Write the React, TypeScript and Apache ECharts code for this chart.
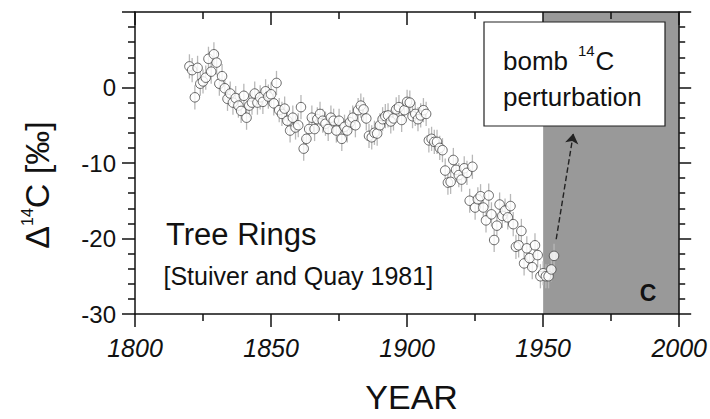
import React, { useEffect, useRef } from 'react';
import * as echarts from 'echarts';

const YEARS = [
  1820, 1821, 1822, 1823, 1824, 1825, 1826, 1827, 1828, 1829,
  1830, 1831, 1832, 1833, 1834, 1835, 1836, 1837, 1838, 1839,
  1840, 1841, 1842, 1843, 1844, 1845, 1846, 1847, 1848, 1849,
  1850, 1851, 1852, 1853, 1854, 1855, 1856, 1857, 1858, 1859,
  1860, 1861, 1862, 1863, 1864, 1865, 1866, 1867, 1868, 1869,
  1870, 1871, 1872, 1873, 1874, 1875, 1876, 1877, 1878, 1879,
  1880, 1881, 1882, 1883, 1884, 1885, 1886, 1887, 1888, 1889,
  1890, 1891, 1892, 1893, 1894, 1895, 1896, 1897, 1898, 1899,
  1900, 1901, 1902, 1903, 1904, 1905, 1906, 1907, 1908, 1909,
  1910, 1911, 1912, 1913, 1914, 1915, 1916, 1917, 1918, 1919,
  1920, 1921, 1922, 1923, 1924, 1925, 1926, 1927, 1928, 1929,
  1930, 1931, 1932, 1933, 1934, 1935, 1936, 1937, 1938, 1939,
  1940, 1941, 1942, 1943, 1944, 1945, 1946, 1947, 1948, 1949,
  1950, 1951, 1952, 1953, 1954,
];

const D14C = [
  2.8, 2.3, -1.3, 2.6, 0.5, 0.8, 1.3, 3.8, 2.1, 4.4,
  3.3, 0.5, 1.5, -0.1, -1.5, -0.8, -2.0, -1.4, -2.4, -3.1,
  -1.1, -4.0, -2.4, -2.0, -0.8, -2.0, -1.3, -1.9, -0.5, -1.2,
  -0.9, -2.1, 0.6, -3.0, -3.5, -2.8, -4.4, -5.7, -4.0, -5.3,
  -5.0, -2.6, -8.1, -6.8, -5.5, -4.0, -5.5, -4.2, -3.5, -4.4,
  -4.8, -5.5, -4.0, -4.4, -5.7, -4.4, -6.8, -5.2, -5.7, -4.6,
  -4.0, -5.0, -3.0, -2.4, -2.9, -4.1, -6.4, -6.6, -6.0, -6.1,
  -5.0, -4.2, -3.8, -3.7, -4.5, -4.1, -2.9, -2.6, -4.3, -3.0,
  -1.9, -2.0, -3.8, -3.5, -4.2, -3.7, -3.0, -3.5, -7.0, -6.8,
  -7.2, -7.2, -8.0, -8.3, -11.0, -12.6, -12.5, -9.6, -10.9, -11.6,
  -12.2, -10.7, -11.3, -15.0, -10.5, -15.9, -14.8, -14.4, -15.9, -17.6,
  -14.3, -16.8, -20.2, -18.3, -15.5, -17.0, -16.3, -17.2, -15.7, -18.1,
  -21.1, -20.9, -19.0, -23.3, -21.3, -22.6, -23.8, -20.9, -22.2, -25.0,
  -24.6, -25.0, -25.0, -24.1, -22.3,
];

const ERR = 1.6;
const BOMB_RANGE = [1950, 2000];
const ARROW_FROM = [1954.8, -20.1];
const ARROW_TO = [1961.1, -6.1];

const FONT = '"Liberation Sans", Arial, Helvetica, sans-serif';
const INK = '#111';

export default function App() {
  const ref = useRef<HTMLDivElement>(null);

  useEffect(() => {
    const chart = echarts.init(ref.current as HTMLDivElement, null, { renderer: 'svg' });
    const pts = YEARS.map((y, i) => [y, D14C[i]]);
    const axisLine = { show: true, onZero: false, lineStyle: { color: INK, width: 1.5 } };
    const tickStyle = { color: INK, width: 1.5 };

    chart.setOption({
      animation: false,
      grid: { left: 135, right: 30, top: 12, bottom: 101, containLabel: false },
      xAxis: [
        {
          type: 'value', min: 1800, max: 2000, interval: 50, position: 'bottom', z: 10,
          axisLine,
          axisTick: { show: true, length: 13, lineStyle: tickStyle },
          minorTick: { show: true, splitNumber: 2, length: 7, lineStyle: tickStyle },
          axisLabel: {
            margin: 21, fontSize: 25, fontStyle: 'italic', color: INK, fontFamily: FONT,
            formatter: (v: number) => String(v),
          },
          splitLine: { show: false },
          name: 'YEAR', nameLocation: 'middle', nameGap: 66,
          nameTextStyle: { fontSize: 34, color: INK, fontFamily: FONT, padding: [0, 0, 0, 9] },
        },
        {
          type: 'value', min: 1800, max: 2000, interval: 50, position: 'top', z: 10,
          axisLine,
          axisTick: { show: true, inside: true, length: 13, lineStyle: tickStyle },
          minorTick: { show: true, splitNumber: 2, length: 7, lineStyle: tickStyle },
          axisLabel: { show: false },
          splitLine: { show: false },
        },
      ],
      yAxis: [
        {
          type: 'value', min: -30, max: 10, interval: 10, position: 'left', z: 10,
          axisLine,
          axisTick: { show: true, length: 13, lineStyle: tickStyle },
          minorTick: { show: true, splitNumber: 5, length: 7, lineStyle: tickStyle },
          axisLabel: {
            margin: 19, fontSize: 24, color: INK, fontFamily: FONT,
            formatter: (v: number) => (v > 0 ? '' : String(v)),
          },
          splitLine: { show: false },
        },
        {
          type: 'value', min: -30, max: 10, interval: 10, position: 'right', z: 10,
          axisLine,
          axisTick: { show: true, length: 12, lineStyle: tickStyle },
          minorTick: { show: true, splitNumber: 5, length: 6, lineStyle: tickStyle },
          axisLabel: { show: false },
          splitLine: { show: false },
        },
      ],
      series: [
        {
          type: 'scatter', xAxisIndex: 0, yAxisIndex: 0, z: 1, silent: true,
          data: [],
          markArea: {
            silent: true,
            itemStyle: { color: '#999999', opacity: 1 },
            data: [[{ xAxis: BOMB_RANGE[0] }, { xAxis: BOMB_RANGE[1] }]],
          },
        },
        {
          type: 'custom', xAxisIndex: 0, yAxisIndex: 0, z: 3, silent: true,
          data: pts,
          encode: { x: 0, y: 1 },
          renderItem: (_params: any, api: any) => {
            const x = api.value(0);
            const y = api.value(1);
            const p1 = api.coord([x, y + ERR]);
            const p2 = api.coord([x, y - ERR]);
            return {
              type: 'line',
              shape: { x1: p1[0], y1: p1[1], x2: p2[0], y2: p2[1] },
              style: { stroke: '#b8b8b8', lineWidth: 1.3 },
            };
          },
        },
        {
          type: 'scatter', xAxisIndex: 0, yAxisIndex: 0, z: 5, silent: true,
          data: pts,
          symbol: 'circle', symbolSize: 9.5,
          itemStyle: { color: '#fff', borderColor: '#444', borderWidth: 1 },
          markLine: {
            silent: true,
            symbol: ['none', 'arrow'],
            symbolSize: 10,
            label: { show: false },
            lineStyle: { type: 'dashed', color: '#222', width: 1.4 },
            data: [[{ coord: ARROW_FROM }, { coord: ARROW_TO }]],
          },
        },
      ],
      graphic: [
        {
          type: 'text', z: 101, x: 37, y: 185, rotation: Math.PI / 2,
          style: {
            text: '{a|Δ}{s|14}{a|C [‰]}',
            align: 'center', verticalAlign: 'middle',
            fontFamily: FONT, fontSize: 34, fill: INK,
            rich: {
              a: { fontSize: 34, fontFamily: FONT, fill: INK, lineHeight: 36 },
              s: { fontSize: 16, fontFamily: FONT, fill: INK, verticalAlign: 'top', lineHeight: 18 },
            },
          },
        },
        {
          type: 'rect', z: 100,
          shape: { x: 484, y: 22, width: 181, height: 104 },
          style: { fill: '#fff', stroke: '#222', lineWidth: 1.2 },
        },
        {
          type: 'text', z: 101, x: 503, y: 61,
          style: { text: 'bomb', fontSize: 26, fontFamily: FONT, fill: INK, verticalAlign: 'middle' },
        },
        {
          type: 'text', z: 101, x: 578, y: 50,
          style: { text: '14', fontSize: 15, fontFamily: FONT, fill: INK, verticalAlign: 'middle' },
        },
        {
          type: 'text', z: 101, x: 595.5, y: 61,
          style: { text: 'C', fontSize: 26, fontFamily: FONT, fill: INK, verticalAlign: 'middle' },
        },
        {
          type: 'text', z: 101, x: 503, y: 97,
          style: { text: 'perturbation', fontSize: 26, fontFamily: FONT, fill: INK, verticalAlign: 'middle' },
        },
        {
          type: 'text', z: 101, x: 166, y: 234,
          style: { text: 'Tree Rings', fontSize: 31, fontFamily: FONT, fill: INK, verticalAlign: 'middle' },
        },
        {
          type: 'text', z: 101, x: 163.5, y: 276,
          style: { text: '[Stuiver and Quay 1981]', fontSize: 25, fontFamily: FONT, fill: INK, verticalAlign: 'middle' },
        },
        {
          type: 'text', z: 101, x: 648, y: 293,
          style: { text: 'C', fontSize: 23, fontWeight: 'bold', fontFamily: FONT, fill: INK, align: 'center', verticalAlign: 'middle' },
        },
      ],
    });

    return () => chart.dispose();
  }, []);

  return (
    <div
      ref={ref}
      style={{ position: 'fixed', left: 0, top: 0, width: 710, height: 419, background: '#fff' }}
    />
  );
}
